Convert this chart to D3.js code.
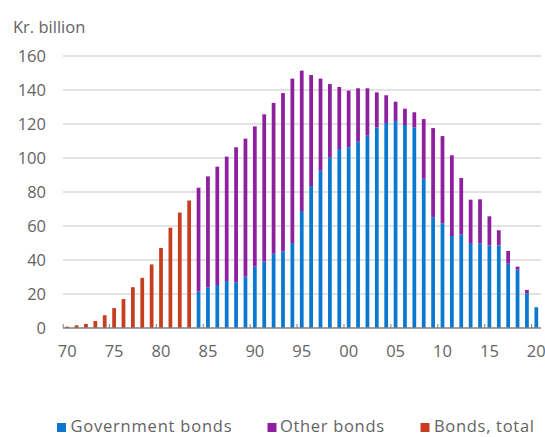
<!DOCTYPE html>
<html>
<head>
<meta charset="utf-8">
<script src="https://cdn.jsdelivr.net/npm/d3@7"></script>
<style>
  html, body { margin: 0; padding: 0; background: #ffffff; }
  svg { display: block; }
  text { font-family: "Open Sans", "Noto Sans", sans-serif; fill: #646464; }
</style>
</head>
<body>
<svg id="chart" width="545" height="437"></svg>
<script>
// Categories: one band per year, 1970–2020
const years = [1970,1971,1972,1973,1974,1975,1976,1977,1978,1979,
               1980,1981,1982,1983,1984,1985,1986,1987,1988,1989,
               1990,1991,1992,1993,1994,1995,1996,1997,1998,1999,
               2000,2001,2002,2003,2004,2005,2006,2007,2008,2009,
               2010,2011,2012,2013,2014,2015,2016,2017,2018,2019,2020];

// Bonds, total (series without a split, before 1984)
const totalYears = [1970,1971,1972,1973,1974,1975,1976,1977,1978,1979,1980,1981,1982,1983];
const bondsTotal = [0.8,1.6,2.4,4.1,7.5,11.7,17.0,24.0,29.5,37.4,47.1,59.0,67.9,75.0];

// Split series from 1984
const splitYears = [1984,1985,1986,1987,1988,1989,1990,1991,1992,1993,
                    1994,1995,1996,1997,1998,1999,2000,2001,2002,2003,
                    2004,2005,2006,2007,2008,2009,2010,2011,2012,2013,
                    2014,2015,2016,2017,2018,2019,2020];
const governmentBonds = [21.4,23.9,25.3,27.6,26.9,30.2,36.1,39.0,43.7,45.1,
                         50.0,68.8,83.5,92.5,100.2,105.3,106.3,109.6,113.1,118.0,
                         120.6,121.8,119.4,118.0,87.8,65.1,61.6,54.1,55.1,50.0,
                         49.8,48.6,48.6,37.8,34.3,20.4,12.2];
const otherBonds = [61.1,65.3,69.6,73.2,79.4,81.2,82.5,86.7,88.7,93.1,
                    96.7,82.6,65.3,54.2,43.3,36.5,33.3,31.4,27.9,20.6,
                    16.3,11.3,9.6,8.9,35.1,52.5,51.3,47.5,33.1,25.5,
                    25.9,17.1,8.9,7.5,1.8,2.0,0];

// Axis labels
const yTicks = [0,20,40,60,80,100,120,140,160];
const xTickYears = [1970,1975,1980,1985,1990,1995,2000,2005,2010,2015,2020];
const xTickLabels = ["70","75","80","85","90","95","00","05","10","15","20"];

const seriesNames = ["Government bonds","Other bonds","Bonds, total"];
const seriesColors = ["#0a78d1","#8e20a0","#c63e1f"];

const svg = d3.select("#chart");

const x = d3.scaleBand()
  .domain(years)
  .range([62.5, 541])
  .paddingInner(0.6)
  .paddingOuter(0.3);

const y = d3.scaleLinear().domain([0, 160]).range([328, 56]);

// Gridlines
svg.append("g")
  .selectAll("line")
  .data(yTicks.filter(d => d > 0))
  .join("line")
  .attr("x1", 63).attr("x2", 541)
  .attr("y1", d => y(d)).attr("y2", d => y(d))
  .attr("stroke", "#d9d9d9")
  .attr("stroke-width", 1.5);

// Y tick labels
svg.append("g")
  .selectAll("text")
  .data(yTicks)
  .join("text")
  .attr("x", 46)
  .attr("y", d => y(d))
  .attr("dy", "0.36em")
  .attr("text-anchor", "end")
  .attr("font-size", 16.5)
  .text(d => d);

// Unit label
svg.append("text")
  .attr("x", 13).attr("y", 33)
  .attr("font-size", 16.5)
  .text("Kr. billion");

// Bonds, total bars
svg.append("g")
  .selectAll("rect")
  .data(totalYears.map((yr, i) => ({ yr, v: bondsTotal[i] })))
  .join("rect")
  .attr("x", d => x(d.yr))
  .attr("width", x.bandwidth())
  .attr("y", d => y(d.v))
  .attr("height", d => y(0) - y(d.v))
  .attr("fill", seriesColors[2]);

// Stacked government / other bonds
const stackRows = splitYears.map((yr, i) => ({ yr, gov: governmentBonds[i], other: otherBonds[i] }));
const stacked = d3.stack().keys(["gov", "other"])(stackRows);

svg.append("g")
  .selectAll("g")
  .data(stacked)
  .join("g")
  .attr("fill", (d, i) => seriesColors[i])
  .selectAll("rect")
  .data(d => d)
  .join("rect")
  .attr("x", d => x(d.data.yr))
  .attr("width", x.bandwidth())
  .attr("y", d => y(d[1]))
  .attr("height", d => y(d[0]) - y(d[1]));

// Baseline axis
const axisG = svg.append("g");
axisG.append("line")
  .attr("x1", 63).attr("x2", 541)
  .attr("y1", y(0)).attr("y2", y(0))
  .attr("stroke", "#7f7f7f")
  .attr("stroke-width", 1.5);

// Tick marks at category boundaries every five years
const step = x.step();
const boundary = d => x(d) - (step - x.bandwidth()) / 2;
axisG.selectAll("line.tick")
  .data(xTickYears)
  .join("line")
  .attr("class", "tick")
  .attr("x1", d => Math.max(63.2, boundary(d)))
  .attr("x2", d => Math.max(63.2, boundary(d)))
  .attr("y1", y(0) - 4).attr("y2", y(0))
  .attr("stroke", "#7f7f7f")
  .attr("stroke-width", 1);

// X tick labels
axisG.selectAll("text")
  .data(xTickYears)
  .join("text")
  .attr("x", d => x(d) + x.bandwidth() / 2)
  .attr("y", 357)
  .attr("text-anchor", "middle")
  .attr("font-size", 16.5)
  .text((d, i) => xTickLabels[i]);

// Legend
const legendItems = [
  { name: seriesNames[0], color: seriesColors[0], sx: 57, tx: 70.5, w: 161 },
  { name: seriesNames[1], color: seriesColors[1], sx: 267.5, tx: 280, w: 104 },
  { name: seriesNames[2], color: seriesColors[2], sx: 420.5, tx: 434, w: 100 }
];
const legend = svg.append("g");
legend.selectAll("rect")
  .data(legendItems)
  .join("rect")
  .attr("x", d => d.sx).attr("y", 423)
  .attr("width", 9).attr("height", 9)
  .attr("fill", d => d.color);
legend.selectAll("text")
  .data(legendItems)
  .join("text")
  .attr("x", d => d.tx).attr("y", 432)
  .attr("font-size", 16.5)
  .text(d => d.name)
  .each(function (d) {
    // widen letter spacing so each label spans its legend slot
    const natural = this.getComputedTextLength();
    const gaps = Math.max(1, d.name.length - 1);
    const extra = Math.max(0, (d.w - natural) / gaps);
    d3.select(this).attr("letter-spacing", extra.toFixed(2));
  });
</script>
</body>
</html>
